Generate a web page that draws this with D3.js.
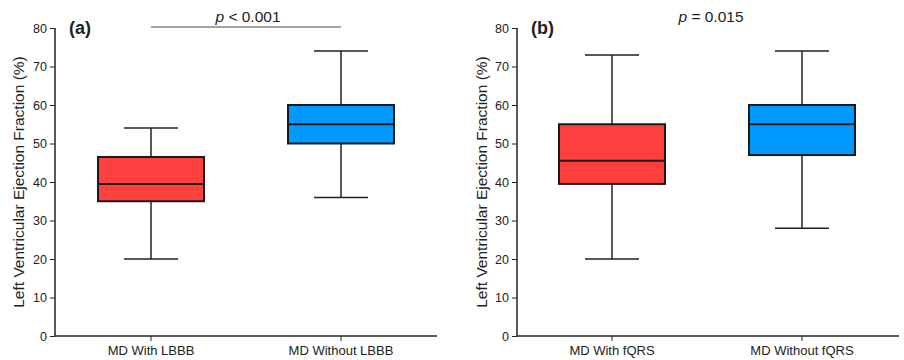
<!DOCTYPE html>
<html>
<head>
<style>
body { margin: 0; background: #fff; }
svg text { font-family: "Liberation Sans", Arial, sans-serif; fill: #222; }
.tick text { font-size: 12.5px; }
.xlab { font-size: 13px; }
.ylab { font-size: 15.5px; }
.panel { font-size: 18px; font-weight: bold; }
.pval { font-size: 15.5px; }
</style>
<script src="https://cdnjs.cloudflare.com/ajax/libs/d3/7.8.5/d3.min.js"></script>
</head>
<body>
<svg width="904" height="360"></svg>
<script>
// panel (a)
var catsA = ["MD With LBBB", "MD Without LBBB"];
var minA = [20, 36], q1A = [35, 50], medA = [39.5, 55], q3A = [46.5, 60], maxA = [54, 74];
// panel (b)
var catsB = ["MD With fQRS", "MD Without fQRS"];
var minB = [20, 28], q1B = [39.5, 47], medB = [45.5, 55], q3B = [55, 60], maxB = [73, 74];
var yTicks = [0, 10, 20, 30, 40, 50, 60, 70, 80];
var colors = ["#ff3e3e", "#0099ff"];

var svg = d3.select("svg");

function panel(opt) {
  var cats = opt.cats;
  var rows = cats.map(function(c, i) {
    return { cat: c, min: opt.min[i], q1: opt.q1[i], med: opt.med[i], q3: opt.q3[i], max: opt.max[i], color: colors[i] };
  });
  var g = svg.append("g");
  var y = d3.scaleLinear().domain([0, 80]).range([336, 28]);
  var x = d3.scalePoint().domain(cats).range([opt.c0, opt.c1]);
  var bw = 106, cw = 54;

  g.append("g").attr("transform", "translate(" + opt.x0 + ",0)")
    .call(d3.axisLeft(y).tickValues(yTicks).tickSize(5).tickPadding(3))
    .call(function(a) { a.select(".domain").attr("d", "M0," + y(80) + "V" + y(0)); });

  g.append("line").attr("x1", opt.x0).attr("x2", opt.x1).attr("y1", y(0)).attr("y2", y(0))
    .attr("stroke", "#222").attr("stroke-width", 1.5);
  g.selectAll(".xt").data(cats).enter().append("line")
    .attr("x1", d => x(d)).attr("x2", d => x(d)).attr("y1", y(0)).attr("y2", y(0) + 5)
    .attr("stroke", "#222");
  g.selectAll(".xlab").data(cats).enter().append("text").attr("class", "xlab")
    .attr("x", d => x(d)).attr("y", 355).attr("text-anchor", "middle").text(d => d);

  g.selectAll(".tick line").attr("stroke", "#222");
  g.selectAll(".domain").attr("stroke", "#222").attr("stroke-width", 1.5);

  var b = g.selectAll(".box").data(rows).enter().append("g");
  b.append("line").attr("x1", d => x(d.cat)).attr("x2", d => x(d.cat))
    .attr("y1", d => y(d.max)).attr("y2", d => y(d.min)).attr("stroke", "#222").attr("stroke-width", 1.5);
  b.append("line").attr("x1", d => x(d.cat) - cw / 2).attr("x2", d => x(d.cat) + cw / 2)
    .attr("y1", d => y(d.max)).attr("y2", d => y(d.max)).attr("stroke", "#222").attr("stroke-width", 1.5);
  b.append("line").attr("x1", d => x(d.cat) - cw / 2).attr("x2", d => x(d.cat) + cw / 2)
    .attr("y1", d => y(d.min)).attr("y2", d => y(d.min)).attr("stroke", "#222").attr("stroke-width", 1.5);
  b.append("rect").attr("x", d => x(d.cat) - bw / 2).attr("width", bw)
    .attr("y", d => y(d.q3)).attr("height", d => y(d.q1) - y(d.q3))
    .attr("fill", d => d.color).attr("stroke", "#1a1a1a").attr("stroke-width", 2);
  b.append("line").attr("x1", d => x(d.cat) - bw / 2).attr("x2", d => x(d.cat) + bw / 2)
    .attr("y1", d => y(d.med)).attr("y2", d => y(d.med)).attr("stroke", "#1a1a1a").attr("stroke-width", 2);

  g.append("text").attr("class", "ylab").attr("text-anchor", "middle")
    .attr("transform", "translate(" + opt.ly + "," + y(40) + ") rotate(-90)")
    .text("Left Ventricular Ejection Fraction (%)");
  g.append("text").attr("class", "panel").attr("x", opt.x0 + 14).attr("y", 34).text(opt.label);

  var pv = g.append("text").attr("class", "pval").attr("x", opt.px).attr("y", 22).attr("text-anchor", "middle");
  pv.append("tspan").attr("font-style", "italic").text("p");
  pv.append("tspan").text(opt.ptext);
  if (opt.bar) {
    g.append("line").attr("x1", x(cats[0])).attr("x2", x(cats[1])).attr("y1", 27).attr("y2", 27)
      .attr("stroke", "#444").attr("stroke-width", 1);
  }
}

panel({ cats: catsA, min: minA, q1: q1A, med: medA, q3: q3A, max: maxA,
  x0: 55, x1: 437, c0: 151, c1: 341, ly: 24, label: "(a)", px: 248, ptext: " < 0.001", bar: true });
panel({ cats: catsB, min: minB, q1: q1B, med: medB, q3: q3B, max: maxB,
  x0: 517, x1: 899, c0: 612, c1: 802, ly: 487, label: "(b)", px: 711, ptext: " = 0.015", bar: false });
</script>
</body>
</html>
